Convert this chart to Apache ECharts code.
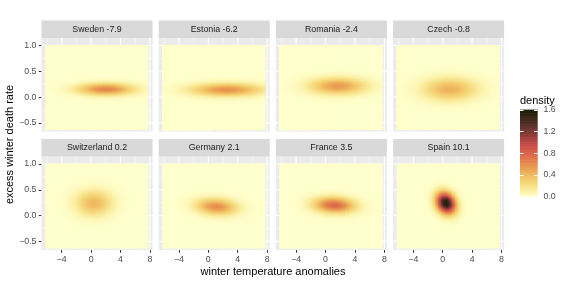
<!DOCTYPE html>
<html><head><meta charset="utf-8">
<script src="https://cdn.jsdelivr.net/npm/echarts@6/dist/echarts.min.js"></script>
<style>html,body{margin:0;padding:0;background:#fff}#c{width:566px;height:283px}</style>
</head><body><div id="c"></div>
<script>
// ---- data ----
const countries   = ['Sweden','Estonia','Romania','Czech','Switzerland','Germany','France','Spain'];
const panelScores = [-7.9, -6.2, -2.4, -0.8, 0.2, 2.1, 3.5, 10.1];
// density blob of each panel: centre, spread, tilt and peak density
const peakX       = [2.0, 2.5, 1.7, 1.0, 0.4, 1.1, 1.2, 0.45];
const peakY       = [0.16, 0.15, 0.22, 0.16, 0.25, 0.18, 0.21, 0.25];
const spreadX     = [2.6, 3.3, 2.6, 2.5, 1.7, 1.9, 1.9, 0.9];
const spreadY     = [0.08, 0.085, 0.11, 0.15, 0.17, 0.11, 0.105, 0.14];
const tilt        = [0, 0, 0, 0, 0, -0.15, -0.1, -0.2];
const peakDensity = [0.64, 0.58, 0.55, 0.45, 0.42, 0.6, 0.78, 1.6];
const xTicks      = [-4, 0, 4, 8];
const xMinorTicks = [-6, -2, 2, 6];
const yTicks      = [-0.5, 0, 0.5, 1.0];
const yMinorTicks = [-0.25, 0.25, 0.75];
const legendTicks = [0, 0.4, 0.8, 1.2, 1.6];
const densityMax  = 1.6;
const rasterX = [-6.27, 7.7];
const rasterY = [-0.63, 1.01];
const xRange = [-6.75, 8.35];
const yRange = [-0.667, 1.145];

// ---- layout / style ----
const FONT = '"Liberation Sans", Arial, sans-serif';
const lajolla = ['#FFFFCC','#FBEFA3','#F6DC80','#F3C96A','#EDAF58','#E8944F','#E27A4B','#DB644A','#CF5148','#B44643','#8E3C38','#6B3430','#4C2C22','#332314','#1A1A01'];
const panelLeft = [41.5, 158.7, 275.9, 393.1], panelWidth = 111;
const panelTop = [38, 156.5], panelHeight = 93.5, stripHeight = 17.5;
const nCells = 72;

function density(i, x, y) {
  const r = tilt[i];
  const u = (x - peakX[i]) / spreadX[i], v = (y - peakY[i]) / spreadY[i];
  const z = (u*u - 2*r*u*v + v*v) / (2*(1 - r*r));
  return peakDensity[i] * Math.exp(-z);
}

const grid = [], xAxis = [], yAxis = [], series = [], graphic = [], rasterSeries = [];
const fmtX = v => (v < 0 ? '\u2212' : '') + Math.abs(v);
const fmtY = v => (v < 0 ? '\u2212' : '') + Math.abs(v).toFixed(1);

const lineData = [];
xTicks.forEach(v => lineData.push([0, v, 1]));
xMinorTicks.forEach(v => lineData.push([0, v, 0]));
yTicks.forEach(v => lineData.push([1, v, 1]));
yMinorTicks.forEach(v => lineData.push([1, v, 0]));

const dx = (rasterX[1] - rasterX[0]) / nCells, dy = (rasterY[1] - rasterY[0]) / nCells;

countries.forEach((name, i) => {
  const col = i % 4, row = Math.floor(i / 4);
  grid.push({left: panelLeft[col], top: panelTop[row], width: panelWidth, height: panelHeight,
    show: true, backgroundColor: '#EBEBEB', borderWidth: 0, containLabel: false});
  xAxis.push({gridIndex: i, type: 'value', min: xRange[0], max: xRange[1], position: 'bottom',
    axisLine: {show: false, onZero: false}, splitLine: {show: false},
    axisTick: {show: row === 1, customValues: xTicks, length: 2.75, lineStyle: {color: '#333333', width: 1}},
    axisLabel: {show: row === 1, customValues: xTicks, formatter: fmtX, color: '#4D4D4D', fontSize: 8.8, fontFamily: FONT, margin: 5,
      showMinLabel: true, showMaxLabel: true}});
  yAxis.push({gridIndex: i, type: 'value', min: yRange[0], max: yRange[1], position: 'left',
    axisLine: {show: false, onZero: false}, splitLine: {show: false},
    axisTick: {show: col === 0, customValues: yTicks, length: 2.75, lineStyle: {color: '#333333', width: 1}},
    axisLabel: {show: col === 0, customValues: yTicks, formatter: fmtY, color: '#4D4D4D', fontSize: 8.8, fontFamily: FONT, margin: 5,
      showMinLabel: true, showMaxLabel: true}});
  series.push({type: 'custom', xAxisIndex: i, yAxisIndex: i, silent: true, z: 1,
    data: lineData, encode: {x: 1, y: 1},
    renderItem(params, api) {
      const cs = params.coordSys;
      const t = api.value(0), v = api.value(1), major = api.value(2);
      let shape;
      if (t === 0) { const px = api.coord([v, 0])[0]; shape = {x1: px, y1: cs.y, x2: px, y2: cs.y + cs.height}; }
      else { const py = api.coord([0, v])[1]; shape = {x1: cs.x, y1: py, x2: cs.x + cs.width, y2: py}; }
      return {type: 'line', shape, style: {stroke: '#FFFFFF', lineWidth: major ? 1.07 : 0.53}, silent: true};
    }});
  const cells = [];
  for (let a = 0; a < nCells; a++) {
    const x = rasterX[0] + (a + 0.5) * dx;
    for (let b = 0; b < nCells; b++) {
      const y = rasterY[0] + (b + 0.5) * dy;
      cells.push([x, y, density(i, x, y)]);
    }
  }
  rasterSeries.push(series.length);
  series.push({type: 'custom', xAxisIndex: i, yAxisIndex: i, silent: true, z: 2, data: cells,
    renderItem(params, api) {
      const p = api.coord([api.value(0), api.value(1)]);
      const s = api.size([dx, dy]);
      return {type: 'rect', shape: {x: p[0] - s[0]/2, y: p[1] - s[1]/2, width: s[0] + 0.5, height: s[1] + 0.5},
        style: {fill: api.visual('color')}, silent: true};
    }});
  graphic.push({type: 'rect', left: panelLeft[col], top: panelTop[row] - stripHeight,
    shape: {width: panelWidth, height: stripHeight}, style: {fill: '#D9D9D9'}, silent: true});
  graphic.push({type: 'text', x: panelLeft[col] + panelWidth/2, y: panelTop[row] - stripHeight/2,
    style: {text: name + ' ' + panelScores[i].toFixed(1), fill: '#1A1A1A', fontSize: 8.8, fontFamily: FONT,
      align: 'center', verticalAlign: 'middle'}, silent: true});
});

// ---- colour bar legend ----
const L = countries.length;
grid.push({left: 520, top: 109.9, width: 17.5, height: 86.8, show: false});
xAxis.push({gridIndex: L, type: 'value', min: 0, max: 1, show: false});
yAxis.push({gridIndex: L, type: 'value', position: 'right', min: 0, max: densityMax, interval: 0.4, z: 10,
  axisLine: {show: false, onZero: false}, splitLine: {show: false},
  axisTick: {show: true, inside: true, length: 3.5, lineStyle: {color: '#FFFFFF', width: 1}},
  axisLabel: {color: '#4D4D4D', fontSize: 8.8, fontFamily: FONT, margin: 6, formatter: v => v.toFixed(1)}});
yAxis.push({gridIndex: L, type: 'value', position: 'left', min: 0, max: densityMax, interval: 0.4, z: 10,
  axisLine: {show: false, onZero: false}, splitLine: {show: false}, axisLabel: {show: false},
  axisTick: {show: true, inside: true, length: 3.5, lineStyle: {color: '#FFFFFF', width: 1}}});
const barSteps = [];
const nBar = 120;
for (let k = 0; k < nBar; k++) { const v = (k + 0.5) * densityMax / nBar; barSteps.push([0.5, v, v]); }
rasterSeries.push(series.length);
series.push({type: 'custom', xAxisIndex: L, yAxisIndex: L, silent: true, z: 2, data: barSteps,
  renderItem(params, api) {
    const cs = params.coordSys;
    const p = api.coord([0.5, api.value(1)]);
    const h = api.size([0, densityMax / nBar])[1];
    return {type: 'rect', shape: {x: cs.x, y: p[1] - h/2 - 0.3, width: cs.width, height: h + 0.6},
      style: {fill: api.visual('color')}, silent: true};
  }});

graphic.push({type: 'text', x: 520, y: 101, style: {text: 'density', fill: '#000000', fontSize: 11, fontFamily: FONT,
  align: 'left', verticalAlign: 'middle'}, silent: true});
graphic.push({type: 'text', x: 273, y: 272, style: {text: 'winter temperature anomalies', fill: '#000000', fontSize: 11,
  fontFamily: FONT, align: 'center', verticalAlign: 'middle'}, silent: true});
graphic.push({type: 'text', x: 10, y: 144.5, rotation: Math.PI/2, style: {text: 'excess winter death rate', fill: '#000000',
  fontSize: 11, fontFamily: FONT, align: 'center', verticalAlign: 'middle'}, silent: true});

const chart = echarts.init(document.getElementById('c'), null, {renderer: 'canvas', width: 566, height: 283});
chart.setOption({
  animation: false,
  backgroundColor: '#FFFFFF',
  textStyle: {fontFamily: FONT},
  grid, xAxis, yAxis, series, graphic,
  visualMap: {type: 'continuous', show: false, min: 0, max: densityMax, dimension: 2,
    seriesIndex: rasterSeries, inRange: {color: lajolla}}
});
</script></body></html>
